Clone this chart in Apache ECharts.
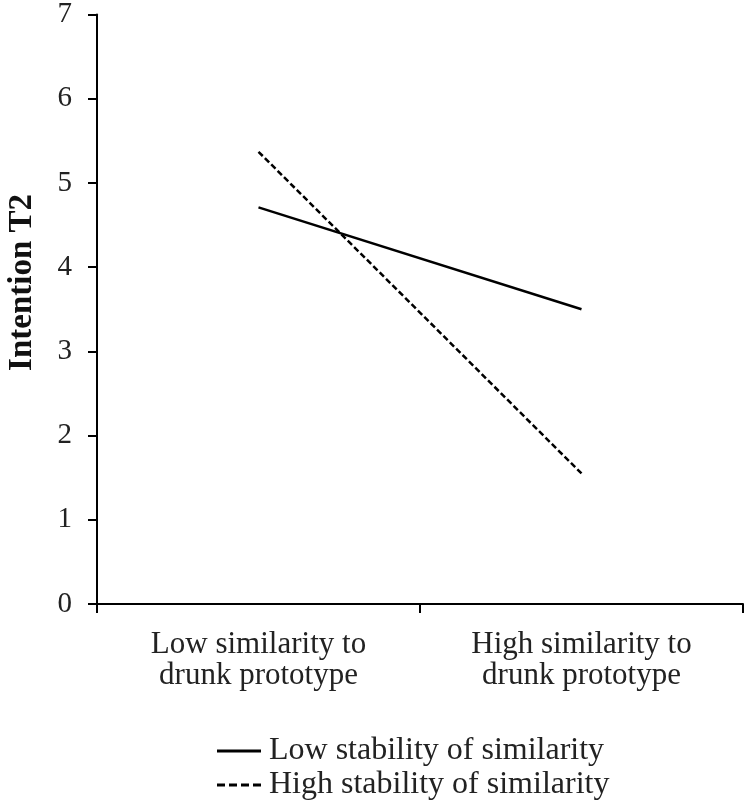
<!DOCTYPE html>
<html><head><meta charset="utf-8">
<script src="https://cdn.jsdelivr.net/npm/echarts@6/dist/echarts.min.js"></script>
<style>html,body{margin:0;padding:0;background:#fff}#c{width:746px;height:807px}</style>
</head><body><div id="c"></div>
<script>
const categories = ['Low similarity to\ndrunk prototype', 'High similarity to\ndrunk prototype'];
const lowStability = [4.71, 3.50];
const highStability = [5.37, 1.55];
const seriesNames = ['Low stability of similarity', 'High stability of similarity'];
const yTicks = {min: 0, max: 7, interval: 1};
const font = '"Liberation Serif","Times New Roman",serif';

const solidIcon = 'path://M0,0H44V3H0Z';
const dashIcon = 'path://M0,0H8V3H0Z M12,0H20V3H12Z M24,0H32V3H24Z M36,0H44V3H36Z';

const legendBase = {
  orient: 'horizontal', left: 212, itemWidth: 44, itemHeight: 3,
  textStyle: {color: '#222', fontFamily: font, fontSize: 32, lineHeight: 30, padding: [0, 0, 0, 3]}
};

const chart = echarts.init(document.getElementById('c'));
chart.setOption({
  animation: false,
  backgroundColor: '#fff',
  grid: {left: 97, right: 3, top: 14, bottom: 203},
  xAxis: {
    type: 'category', data: categories, boundaryGap: true,
    axisLine: {lineStyle: {color: '#000', width: 2}},
    axisTick: {show: true, length: 9, lineStyle: {color: '#000', width: 2}},
    axisLabel: {color: '#222', fontFamily: font, fontSize: 31, lineHeight: 31, margin: 25}
  },
  yAxis: {
    type: 'value', min: yTicks.min, max: yTicks.max, interval: yTicks.interval,
    splitLine: {show: false},
    axisLine: {show: true, lineStyle: {color: '#000', width: 2}},
    axisTick: {show: true, length: 9, lineStyle: {color: '#000', width: 2}},
    axisLabel: {color: '#222', fontFamily: font, fontSize: 29, margin: 25}
  },
  legend: [
    Object.assign({}, legendBase, {top: 730,
      data: [{name: seriesNames[0], icon: solidIcon, itemStyle: {color: '#000'}}]}),
    Object.assign({}, legendBase, {top: 764,
      data: [{name: seriesNames[1], icon: dashIcon, itemStyle: {color: '#000'}}]})
  ],
  graphic: [{
    type: 'text', left: 6, top: 194, rotation: Math.PI / 2,
    style: {text: 'Intention T2', font: 'bold 33px ' + font, fill: '#111'}
  }],
  series: [
    {name: seriesNames[0], type: 'line', data: lowStability, symbol: 'none',
     lineStyle: {color: '#000', width: 2.5, type: 'solid'}, itemStyle: {color: '#000'}},
    {name: seriesNames[1], type: 'line', data: highStability, symbol: 'none',
     lineStyle: {color: '#000', width: 2.5, type: [6, 3]}, itemStyle: {color: '#000'}}
  ]
});
</script></body></html>
